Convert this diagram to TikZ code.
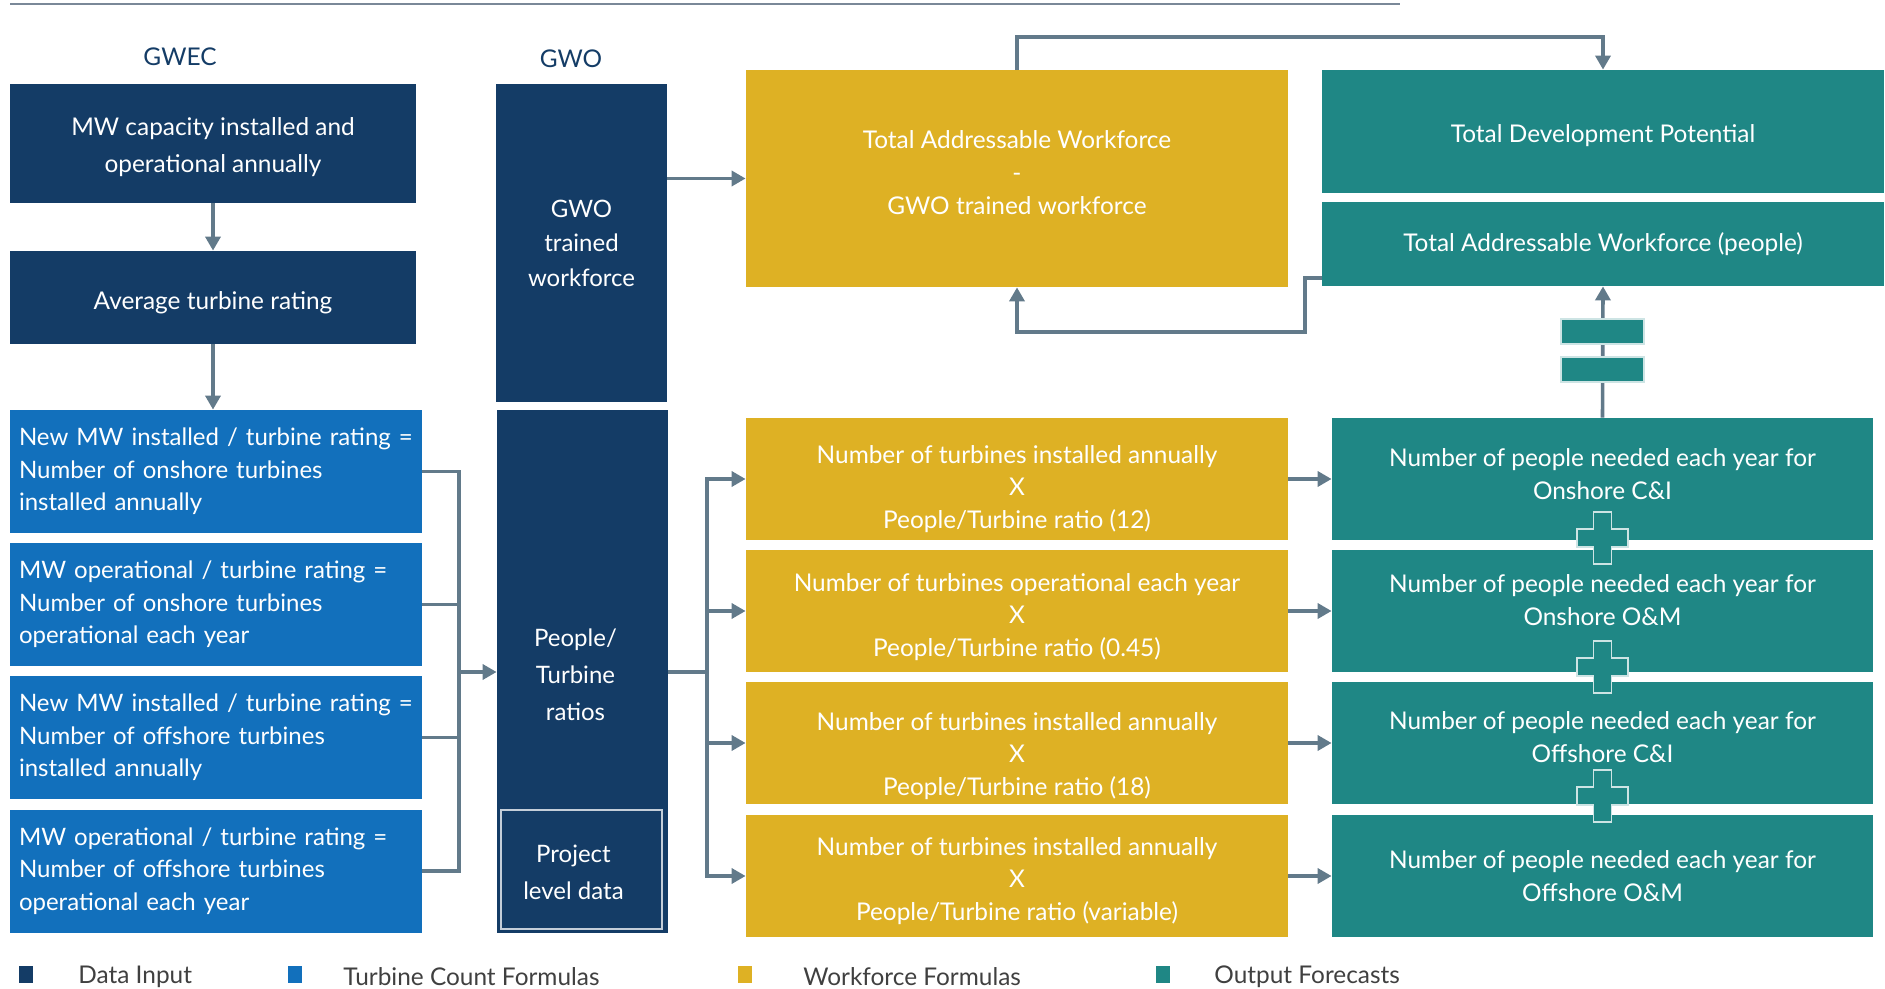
\documentclass[tikz,border=0pt]{standalone}
\usepackage{fontspec}
\setmainfont{Lato}
\usetikzlibrary{positioning, calc, arrows.meta}
\definecolor{navy}{RGB}{20,60,102}
\definecolor{tcblue}{RGB}{18,112,188}
\definecolor{gold}{RGB}{222,177,36}
\definecolor{tealc}{RGB}{31,135,133}
\definecolor{lineg}{RGB}{98,122,138}
\definecolor{rulec}{RGB}{122,136,152}
\definecolor{legtext}{RGB}{64,64,64}
\definecolor{paleteal}{RGB}{205,228,228}

\begin{document}
\begin{tikzpicture}[x=0.5pt, y=-0.5pt,
    every node/.style={inner sep=0pt},
    blk/.style={fill=#1, text=white, align=center},
    wtxt/.style={text=white, align=center},
    arr/.style={draw=lineg, line width=1.8pt, -{Triangle[length=7pt,width=7.5pt]}},
    ln/.style={draw=lineg, line width=1.8pt},
    plusbox/.style={fill=tealc, draw=paleteal, line width=0.6pt}]
\fontsize{12.2}{16.25}\selectfont
\useasboundingbox (0,0) rectangle (1885,989);
\draw[rulec, line width=1pt] (10,4) -- (1400,4);

\node[text=navy] (gwec) at (180,57) {GWEC};
\node[text=navy] (gwolab) at (571,59) {GWO};

\node[blk=navy, minimum width=203pt, minimum height=59.5pt] (mwcap) at (213,143.5) {};
\node[wtxt, font=\fontsize{12.2}{18.5}\selectfont] (mwcapt) at ([yshift=-2pt]mwcap) {MW capacity installed and\\operational annually};
\node[blk=navy, minimum width=203pt, minimum height=46.5pt] (avg) at (213,297.5) {};
\node[wtxt] (avgt) at ([yshift=-2.5pt]avg) {Average turbine rating};

\node[blk=tcblue, align=left, text width=197pt, inner xsep=4.5pt, minimum height=61.5pt, font=\fontsize{12}{16.25}\selectfont] (tc1) at (216,471.5) {New MW installed / turbine rating =\\Number of onshore turbines\\installed annually};
\node[blk=tcblue, align=left, text width=197pt, inner xsep=4.5pt, minimum height=61.5pt, font=\fontsize{12}{16.25}\selectfont] (tc2) at (216,604.5) {MW operational / turbine rating =\\Number of onshore turbines\\operational each year};
\node[blk=tcblue, align=left, text width=197pt, inner xsep=4.5pt, minimum height=61.5pt, font=\fontsize{12}{16.25}\selectfont] (tc3) at (216,737.5) {New MW installed / turbine rating =\\Number of offshore turbines\\installed annually};
\node[blk=tcblue, align=left, text width=197pt, inner xsep=4.5pt, minimum height=61.5pt, font=\fontsize{12}{16.25}\selectfont] (tc4) at (216,871) {MW operational / turbine rating =\\Number of offshore turbines\\operational each year};

\node[blk=navy, minimum width=85.5pt, minimum height=159pt, font=\fontsize{12}{17.25}\selectfont] (gwo) at (581.5,243) {GWO\\trained\\workforce};
\node[blk=navy, minimum width=85.5pt, minimum height=261.5pt] (ratio) at (582.5,671.5) {};
\node[wtxt, font=\fontsize{12}{18.5}\selectfont] (ratiot) at ([xshift=-3.5pt, yshift=-1.5pt]ratio) {People/\\Turbine\\ratios};
\node[draw=white!75!navy, line width=0.8pt, minimum width=80.5pt, minimum height=59.5pt] (proj) at (581.5,869.5) {};
\node[wtxt, font=\fontsize{12}{18.5}\selectfont] (projt) at ([xshift=-4pt, yshift=-1.5pt]proj) {Project\\level data};

\node[blk=gold, minimum width=271pt, minimum height=108.5pt] (taw) at (1017,178.5) {};
\node[wtxt, font=\fontsize{12.2}{16.5}\selectfont] (tawt) at ([yshift=3pt]taw) {Total Addressable Workforce\\-\\GWO trained workforce};
\node[blk=tealc, minimum width=281pt, minimum height=61.5pt] (tdp) at (1603,131.5) {};
\node[wtxt] (tdpt) at ([yshift=-2pt]tdp) {Total Development Potential};
\node[blk=tealc, minimum width=281pt, minimum height=42pt] (tawp) at (1603,244) {Total Addressable Workforce (people)};

\node[blk=gold, minimum width=271pt, minimum height=61pt] (wf1) at (1017,479) {};
\node[blk=gold, minimum width=271pt, minimum height=61pt] (wf2) at (1017,611) {};
\node[blk=gold, minimum width=271pt, minimum height=61pt] (wf3) at (1017,743) {};
\node[blk=gold, minimum width=271pt, minimum height=61pt] (wf4) at (1017,876) {};
\node[wtxt] (wf1t) at ([yshift=-5pt]wf1) {Number of turbines installed annually\\X\\People/Turbine ratio (12)};
\node[wtxt] (wf2t) at ([yshift=-3pt]wf2) {Number of turbines operational each year\\X\\People/Turbine ratio (0.45)};
\node[wtxt] (wf3t) at ([yshift=-6.5pt]wf3) {Number of turbines installed annually\\X\\People/Turbine ratio (18)};
\node[wtxt] (wf4t) at ([yshift=-2.5pt]wf4) {Number of turbines installed annually\\X\\People/Turbine ratio (variable)};

\node[blk=tealc, minimum width=270.5pt, minimum height=61pt] (out1) at (1602.5,479) {};
\node[blk=tealc, minimum width=270.5pt, minimum height=61pt] (out2) at (1602.5,611) {};
\node[blk=tealc, minimum width=270.5pt, minimum height=61pt] (out3) at (1602.5,743) {};
\node[blk=tealc, minimum width=270.5pt, minimum height=61pt] (out4) at (1602.5,876) {};
\node[wtxt] (out1t) at ([yshift=2.5pt]out1) {Number of people needed each year for\\Onshore C\&I};
\node[wtxt] (out2t) at ([yshift=5.5pt]out2) {Number of people needed each year for\\Onshore O\&M};
\node[wtxt] (out3t) at ([yshift=3pt]out3) {Number of people needed each year for\\Offshore C\&I};
\node[wtxt] (out4t) at (out4) {Number of people needed each year for\\Offshore O\&M};

\draw[arr] (mwcap) -- (avg);
\draw[arr] (avg.south) -- (avg.south |- tc1.north);
\coordinate (jl) at (459,672);
\foreach \i in {1,...,4} \draw[ln] (tc\i.east) -| (jl);
\draw[arr] (jl) -- (jl -| ratio.west);
\coordinate (jr) at (707,672);
\draw[ln] (ratio.east |- jr) -- (jr);
\foreach \i in {1,...,4} {
  \draw[arr] (jr) |- (wf\i.west);
  \draw[arr] (wf\i) -- (out\i);
}
\draw[arr] (gwo.east |- taw.west) -- (taw.west);
\coordinate (up) at (1017,37);
\draw[arr] (taw.north) -- (up) -| (tdp.north);
\coordinate (back) at (1305,332);
\draw[arr] ([yshift=-17pt]tawp.west) -| (back) -| (taw.south);
\draw[arr] (out1.north) -- (tawp.south);

\node[plusbox, minimum width=41.5pt, minimum height=12.5pt] (eqa) at (1602.5,331.5) {};
\node[plusbox, minimum width=41.5pt, minimum height=12.5pt] (eqb) at (1602.5,369.5) {};
\foreach \y in {538,667,796}
  \draw[plusbox] (1602.5,\y) ++(-9,-26) -- ++(18,0) -- ++(0,17) -- ++(16.5,0) -- ++(0,18) -- ++(-16.5,0) -- ++(0,17) -- ++(-18,0) -- ++(0,-17) -- ++(-16.5,0) -- ++(0,-18) -- ++(16.5,0) -- cycle;

\foreach \c/\x/\lx/\t [count=\k] in {navy/26/78/Data Input, tcblue/295/343/Turbine Count Formulas, gold/745/803/Workforce Formulas, tealc/1163/1214/Output Forecasts} {
  \node[fill=\c, minimum width=7pt, minimum height=8.5pt] (key\k) at (\x,974) {};
  \node[text=legtext, anchor=west] (lab\k) at (\lx,977) {\t};
}
\end{tikzpicture}
\end{document}
